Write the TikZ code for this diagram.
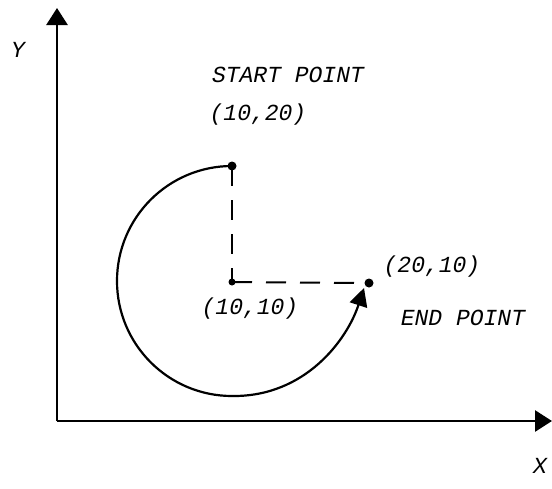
\documentclass[tikz,border=0pt]{standalone}
\usepackage{fontspec}
\setmonofont{Liberation Mono}
\usetikzlibrary{arrows.meta}

\tikzset{
  lbl/.style={font=\ttfamily\itshape\fontsize{23}{26}\selectfont, inner sep=0pt},
  axis/.style={line width=2.8pt, -{Triangle[length=17pt,width=21pt]}},
  guide/.style={line width=2pt, dash pattern=on 20pt off 14pt},
}

\begin{document}
\begin{tikzpicture}[x=1pt,y=-1pt]
\useasboundingbox (0,0) rectangle (552,488);
\coordinate (O) at (57,421); \coordinate (Ytop) at (57,8); \coordinate (Xend) at (552,421);
\coordinate (C) at (232,282); \coordinate (S) at (232,166); \coordinate (E) at (369,283);
\draw[axis] (O)--(Ytop);
\draw[axis] (O)--(Xend);
\draw[guide] (S)--(C);
\draw[guide] (C)--(E);
% arc from start point round to end point
\draw[line width=2.2pt, -{Triangle[length=18pt,width=18pt]}]
  (S) arc[start angle=-90, end angle=-270, radius=115]
  .. controls (305,397) and (347,340) .. (364,288);
\fill (S) circle (4.5); \fill (C) circle (3.5); \fill (E) circle (4.5);
\node[lbl] (ylab) at (18,50) {Y};
\node[lbl] (xlab) at (540,466) {X};
\node[lbl] (start) at (288,75) {START POINT};
\node[lbl] (p1020) at (258,115) {(10,20)};
\node[lbl] (p1010) at (250,309) {(10,10)};
\node[lbl] (p2010) at (432,267) {(20,10)};
\node[lbl] (endp) at (463,318) {END POINT};
\end{tikzpicture}
\end{document}
